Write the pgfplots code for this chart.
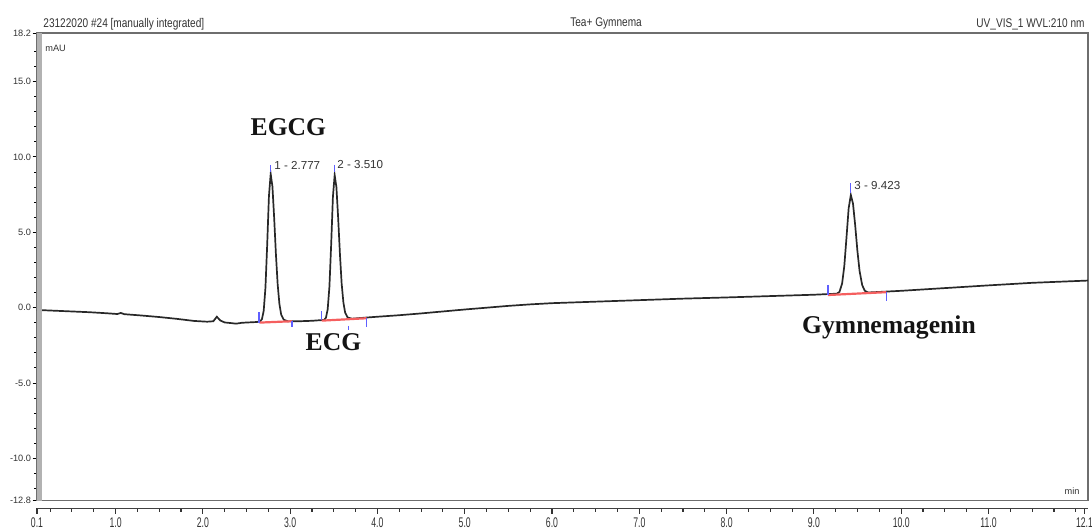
\documentclass[border=0pt]{standalone}
\usepackage{fontspec}
\usepackage{graphicx}
\usepackage{pgfplots}
\pgfplotsset{compat=1.18}
\setmainfont{Liberation Sans}
\newfontfamily\tnr{Liberation Serif}
\definecolor{curve}{RGB}{40,40,40}
\definecolor{intblue}{RGB}{95,95,255}
\definecolor{intred}{RGB}{245,95,95}
\definecolor{frame}{RGB}{110,110,110}
\newcommand{\hdr}[1]{\scalebox{0.8}[1]{\fontsize{6.3}{7}\selectfont #1}}
\newcommand{\xl}[1]{\scalebox{0.62}[1]{#1}}
\newcommand{\cmpd}[1]{{\tnr\bfseries\fontsize{12.8}{14}\selectfont #1}}
\begin{document}
\begin{tikzpicture}
\begin{axis}[
  at={(0pt,0pt)}, anchor=south west,
  scale only axis, width=525.5pt, height=233.6pt,
  xmin=0.1, xmax=12.14, ymin=-12.8, ymax=18.2,
  clip=false,
  unbounded coords=jump,
  axis line style={draw=frame, line width=0.9pt},
  xtick=\empty,
  ytick={-12.8,-10,-5,0,5,10,15,18.2},
  yticklabels={-12.8,-10.0,-5.0,0.0,5.0,10.0,15.0,18.2},
  minor ytick={-12,-11,-9,-8,-7,-6,-4,-3,-2,-1,1,2,3,4,6,7,8,9,11,12,13,14,16,17},
  ytick pos=left, tick align=outside,
  major tick length=2.2pt, minor tick length=1.4pt,
  tick style={black, line width=0.5pt},
  yticklabel style={font=\fontsize{4.6}{5}\selectfont, inner sep=0.6pt, text=black!80},
]
% chromatogram trace
\addplot[curve, line width=0.85pt, mark=none] coordinates {
(0.10,-0.15) (0.30,-0.20) (0.50,-0.25) (0.70,-0.30) (0.90,-0.37) (1.02,-0.42)
(1.06,-0.35) (1.10,-0.43) (1.30,-0.52) (1.50,-0.62) (1.70,-0.74) (1.90,-0.88)
(2.05,-0.93) (2.12,-0.90) (2.16,-0.60) (2.20,-0.85) (2.25,-0.98) (2.32,-1.02)
(2.38,-1.06) (2.45,-1.00) (2.55,-0.97) (2.62,-0.95)
(2.657,-0.90) (2.677,-0.76) (2.697,-0.21) (2.717,1.32) (2.737,4.17) (2.757,7.40)
(2.777,8.87) (2.797,8.05) (2.817,5.95) (2.837,3.55) (2.857,1.55) (2.877,0.25)
(2.897,-0.45) (2.927,-0.80) (2.977,-0.91)
(3.10,-0.90) (3.25,-0.87)
(3.390,-0.81) (3.410,-0.67) (3.430,-0.11) (3.450,1.40) (3.470,4.19) (3.490,7.36)
(3.510,8.80) (3.530,8.00) (3.550,5.95) (3.570,3.60) (3.590,1.60) (3.610,0.35)
(3.630,-0.33) (3.660,-0.66) (3.710,-0.73)
(3.86,-0.66) (4.00,-0.60) (4.25,-0.50) (4.50,-0.38) (4.75,-0.25) (5.00,-0.12)
(5.25,0.00) (5.50,0.12) (5.75,0.22) (6.00,0.30) (6.50,0.40) (7.00,0.50)
(7.50,0.60) (8.00,0.68) (8.50,0.77) (9.00,0.86)
(9.263,0.93) (9.293,1.05) (9.323,1.60) (9.348,2.75) (9.373,4.63) (9.398,6.59)
(9.423,7.48) (9.448,6.90) (9.473,5.46) (9.498,3.79) (9.523,2.44) (9.553,1.50)
(9.583,1.12) (9.623,1.01)
(9.70,1.03) (10.00,1.12) (10.50,1.30) (11.00,1.48) (11.50,1.65) (12.14,1.80)
};
% integration baselines
\addplot[intred, line width=1.1pt, mark=none] coordinates {
(2.646,-0.99) (3.02,-0.90) (3.02,nan)
(3.36,-0.86) (3.876,-0.70) (3.876,nan)
(9.16,0.84) (9.83,1.03)
};
% peak delimiters
\addplot[intblue, line width=0.8pt, mark=none] coordinates {
(2.646,-0.29) (2.646,-1.02) (2.646,nan)
(3.02,-0.86) (3.02,-1.26) (3.02,nan)
(2.777,9.47) (2.777,9.00) (2.777,nan)
(3.36,-0.22) (3.36,-0.82) (3.36,nan)
(3.876,-0.68) (3.876,-1.26) (3.876,nan)
(3.51,9.47) (3.51,9.00) (3.51,nan)
(3.67,-1.20) (3.67,-1.45) (3.67,nan)
(9.16,1.51) (9.16,0.84) (9.16,nan)
(9.83,1.06) (9.83,0.44) (9.83,nan)
(9.42,8.25) (9.42,7.59)
};
% left thick frame bar
\draw[gray!60, line width=2.6pt] ([xshift=1.3pt]rel axis cs:0,0) -- ([xshift=1.3pt]rel axis cs:0,1);
% peak labels
\node[anchor=west, inner sep=0pt, text=black!80, font=\fontsize{5.8}{6}\selectfont] at (axis cs:2.815,9.47) {1 - 2.777};
\node[anchor=west, inner sep=0pt, text=black!80, font=\fontsize{5.8}{6}\selectfont] at (axis cs:3.536,9.47) {2 - 3.510};
\node[anchor=west, inner sep=0pt, text=black!80, font=\fontsize{5.8}{6}\selectfont] at (axis cs:9.46,8.14) {3 - 9.423};
% compound names
\node[inner sep=0pt, text=black!92] at (axis cs:2.98,11.99) {\cmpd{EGCG}};
\node[inner sep=0pt, text=black!92] at (axis cs:3.496,-2.28) {\cmpd{ECG}};
\node[inner sep=0pt, text=black!92] at (axis cs:9.86,-1.34) {\cmpd{Gymnemagenin}};
% unit labels
\node[anchor=west, inner sep=0pt, text=black!80, font=\fontsize{4.6}{5}\selectfont] at (axis cs:0.192,17.23) {mAU};
\node[anchor=east, inner sep=0pt, text=black!80, font=\fontsize{4.6}{5}\selectfont] at (axis cs:12.047,-12.16) {min};
% header
\node[anchor=west, inner sep=0pt, text=black!80] at (axis cs:0.169,18.83) {\hdr{23122020 \#24 [manually integrated]}};
\node[anchor=west, inner sep=0pt, text=black!80] at (axis cs:6.205,18.83) {\hdr{Tea+ Gymnema}};
\node[anchor=east, inner sep=0pt, text=black!80] at (axis cs:12.105,18.83) {\hdr{UV\_VIS\_1 WVL:210 nm}};
\end{axis}
% x ruler below the frame
\begin{axis}[
  at={(0pt,-3.85pt)}, anchor=south west,
  scale only axis, width=525.5pt, height=10pt,
  xmin=0.1, xmax=12.14, ymin=0, ymax=1,
  axis x line=bottom, axis y line=none,
  x axis line style={-, draw=black!75, line width=0.6pt},
  xtick={0.1,1,2,3,4,5,6,7,8,9,10,11,12.1},
  xticklabels={\xl{0.1},\xl{1.0},\xl{2.0},\xl{3.0},\xl{4.0},\xl{5.0},\xl{6.0},\xl{7.0},\xl{8.0},\xl{9.0},\xl{10.0},\xl{11.0},\xl{12.1}},
  minor xtick={0.25,0.5,0.75,1.25,1.5,1.75,2.25,2.5,2.75,3.25,3.5,3.75,4.25,4.5,4.75,5.25,5.5,5.75,6.25,6.5,6.75,7.25,7.5,7.75,8.25,8.5,8.75,9.25,9.5,9.75,10.25,10.5,10.75,11.25,11.5,11.75,12},
  xtick align=outside,
  major tick length=2.8pt, minor tick length=1.8pt,
  tick style={black!80, line width=0.55pt},
  xticklabel style={font=\fontsize{7}{7}\selectfont, inner sep=0pt, yshift=-1.6pt, text=black!80},
]
\addplot[draw=none] coordinates {(1,0.5)};
\end{axis}
\pgfresetboundingbox
\useasboundingbox (-18.5pt,-14.2pt) rectangle (527.5pt,250.3pt);
\end{tikzpicture}
\end{document}
